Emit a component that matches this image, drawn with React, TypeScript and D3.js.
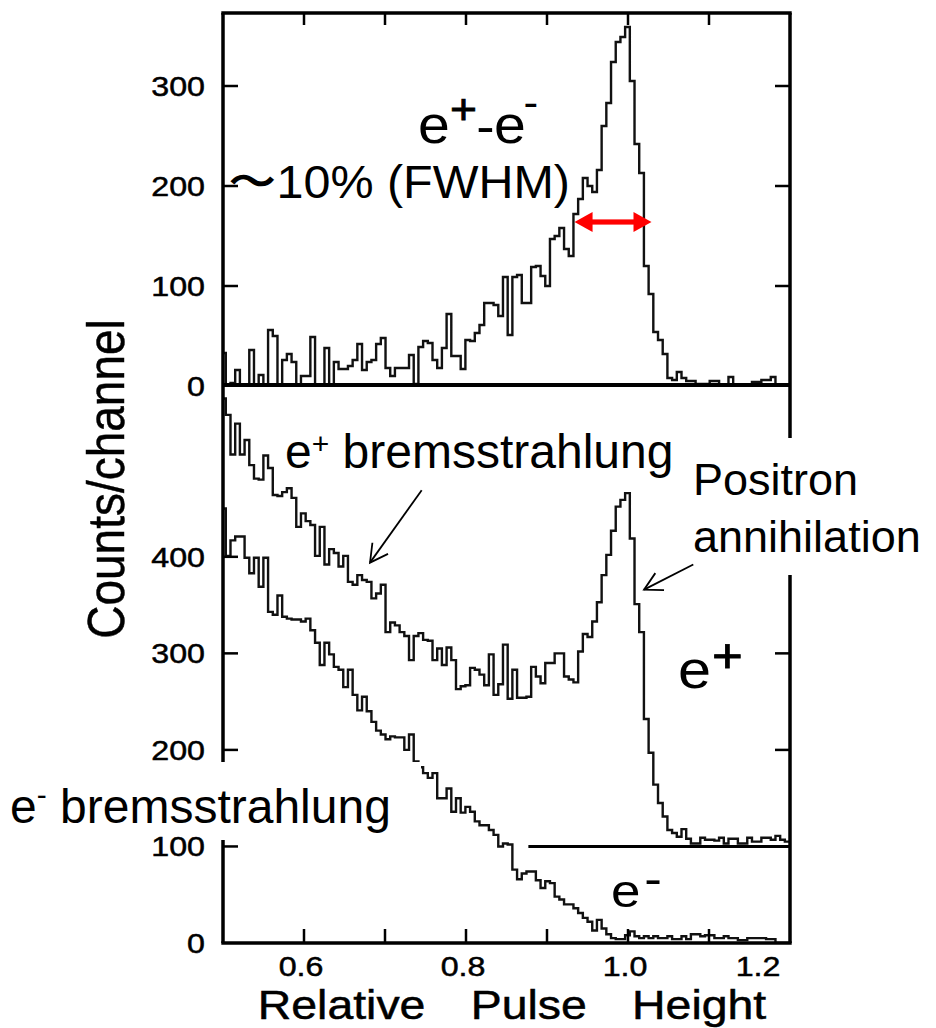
import React from 'react';
import * as d3 from 'd3';

// ---------- data ----------
const X_DOMAIN: [number, number] = [0.5, 1.2];
const X_TICKS = [0.6, 0.7, 0.8, 0.9, 1.0, 1.1];
const X_TICK_LABELS = [0.6, 0.8, 1.0, 1.2];
const TOP_Y_MAX = 373;
const BOTTOM_Y_MAX = 579;
const TOP_Y_TICKS = [100, 200, 300];
const TOP_Y_LABELS = [0, 100, 200, 300];
const BOTTOM_Y_TICKS = [100, 200, 300, 400];
const BOTTOM_Y_LABELS = [0, 100, 200, 300, 400];

const HIST_START = 0.49765;
const BIN_WIDTH = 0.0058;

// e+ - e- coincidence spectrum (top panel)
const EPEM = [
  33, 0, 3, 16, 0, 0, 36, 0, 11, 0, 56, 50, 0, 26, 32, 24, 0, 10, 10, 49,
  0, 0, 38, 0, 24, 17, 17, 20, 26, 42, 16, 24, 26, 42, 48, 18, 10, 18, 18, 18,
  31, 2, 39, 45, 43, 26, 18, 38, 72, 30, 30, 17, 46, 45, 53, 61, 83, 83, 81, 70,
  109, 51, 109, 111, 83, 83, 119, 120, 110, 100, 147, 150, 158, 137, 130, 172, 187, 208, 200, 194,
  216, 260, 283, 324, 344, 349, 359, 305, 242, 213, 120, 92, 54, 46, 32, 8, 6, 14, 8, 5,
  5, 2, 2, 2, 5, 5, 1, 1, 9, 1, 1, 1, 1, 4, 4, 6, 6, 9, 0, 0, 0,
];

// e+ spectrum (bottom panel, offset baseline 100)
const EPLUS = [
  564, 547, 506, 538, 506, 521, 495, 481, 480, 505, 492, 464, 463, 467, 471, 461, 431, 445, 437, 433,
  401, 431, 392, 408, 404, 390, 401, 374, 371, 381, 376, 374, 357, 362, 371, 322, 332, 329, 322, 318,
  293, 318, 321, 314, 313, 293, 305, 288, 306, 293, 263, 266, 267, 285, 283, 278, 267, 299, 257, 268,
  309, 253, 283, 254, 254, 255, 286, 276, 269, 290, 290, 300, 300, 276, 273, 270, 302, 320, 317, 333,
  353, 381, 402, 427, 452, 459, 466, 419, 351, 322, 232, 197, 164, 145, 131, 117, 114, 110, 118, 108,
  103, 103, 109, 107, 107, 106, 109, 103, 108, 108, 103, 103, 109, 105, 105, 109, 109, 107, 111, 107, 105,
];

// e- spectrum (bottom panel)
const EMINUS = [
  450, 401, 417, 421, 421, 399, 383, 399, 369, 399, 343, 340, 360, 338, 336, 335, 335, 333, 336, 324,
  311, 288, 311, 299, 286, 283, 265, 283, 257, 241, 255, 240, 229, 220, 216, 211, 214, 213, 213, 200,
  216, 188, 182, 176, 171, 176, 150, 150, 160, 136, 150, 135, 141, 136, 126, 122, 122, 117, 112, 100,
  103, 102, 76, 66, 72, 74, 74, 65, 57, 64, 62, 48, 45, 40, 40, 36, 31, 26, 22, 13,
  24, 15, 9, 5, 4, 4, 8, 12, 7, 5, 7, 5, 7, 5, 5, 7, 4, 4, 7, 4,
  9, 9, 7, 8, 8, 5, 5, 7, 5, 5, 3, 3, 5, 5, 5, 5, 4, 4, 0, 0, 0,
];

const EPLUS_BASELINE = 100;
const EPLUS_BASELINE_FROM = 0.877;
const FWHM_ARROW = { from: 0.934, to: 1.029, level: 164 };
const ARROW_EPLUS_BREMS = { x0: 0.7453, v0: 469, x1: 0.6815, v1: 394 };
const ARROW_ANNIHILATION = { x0: 1.0806, v0: 392, x1: 1.0198, v1: 366 };

// ---------- drawing ----------
const FONT = "'Liberation Sans', Arial, Helvetica, sans-serif";
const W = 936;
const H = 1028;

function SText(props: {
  x: number; y: number; sx?: number; anchor?: string; size: number; children: any;
  textLength?: number; wordSpacing?: number; bold?: boolean;
}) {
  const { x, y, sx = 1, anchor = 'start', size, children, textLength, wordSpacing, bold } = props;
  return (
    <g transform={`translate(${x},${y}) scale(${sx},1)`}>
      <text
        x={0}
        y={0}
        textAnchor={anchor as any}
        fontSize={size}
        fontFamily={FONT}
        fill="#000"
        stroke={bold ? '#000' : undefined}
        strokeWidth={bold ? 0.5 : undefined}
        wordSpacing={wordSpacing}
        textLength={textLength}
        lengthAdjust={textLength ? 'spacingAndGlyphs' : undefined}
      >
        {children}
      </text>
    </g>
  );
}

function arrowHead(tx: number, ty: number, fx: number, fy: number, len: number, ang: number) {
  const a = Math.atan2(fy - ty, fx - tx);
  const p1 = [tx + len * Math.cos(a + ang), ty + len * Math.sin(a + ang)];
  const p2 = [tx + len * Math.cos(a - ang), ty + len * Math.sin(a - ang)];
  return `M${p1[0]},${p1[1]}L${tx},${ty}L${p2[0]},${p2[1]}`;
}

export default function App() {
  const x = d3.scaleLinear().domain(X_DOMAIN).range([223, 790]);
  const yTop = d3.scaleLinear().domain([0, TOP_Y_MAX]).range([386, 13]);
  const yBot = d3.scaleLinear().domain([0, BOTTOM_Y_MAX]).range([943, 384]);
  const L = x(X_DOMAIN[0]);
  const R = x(X_DOMAIN[1]);
  const T = yTop(TOP_Y_MAX);
  const M = 385;
  const B = yBot(0);

  const hist = (vals: number[], y: d3.ScaleLinear<number, number>) => {
    const pts: [number, number][] = vals.map((v, i) => [x(HIST_START + i * BIN_WIDTH), y(v)]);
    pts.push([x(HIST_START + vals.length * BIN_WIDTH), y(vals[vals.length - 1])]);
    return d3.line().curve(d3.curveStepAfter)(pts) || '';
  };

  const axisW = 3.5;
  const tickW = 2.5;
  const histW = 2.4;
  const tickLen = 15;

  const ax1 = ARROW_EPLUS_BREMS;
  const ax2 = ARROW_ANNIHILATION;
  const a1 = { fx: x(ax1.x0), fy: yBot(ax1.v0), tx: x(ax1.x1), ty: yBot(ax1.v1) };
  const a2 = { fx: x(ax2.x0), fy: yBot(ax2.v0), tx: x(ax2.x1), ty: yBot(ax2.v1) };

  const fx0 = x(FWHM_ARROW.from);
  const fx1 = x(FWHM_ARROW.to);
  const fy = yTop(FWHM_ARROW.level);
  const headL = 18;
  const headH = 10;

  return (
    <svg
      width={W}
      height={H}
      viewBox={`0 0 ${W} ${H}`}
      style={{ position: 'absolute', left: 0, top: 0, background: '#fff' }}
    >
      <defs>
        <clipPath id="clipTop">
          <rect x={L} y={T} width={R - L} height={M - T + 2} />
        </clipPath>
        <clipPath id="clipBot">
          <rect x={L} y={M} width={R - L} height={B - M} />
        </clipPath>
      </defs>
      <rect x={0} y={0} width={W} height={H} fill="#fff" />

      {/* histograms */}
      <path d={hist(EPEM, yTop)} fill="none" stroke="#111" strokeWidth={histW} clipPath="url(#clipTop)" />
      <path d={hist(EPLUS, yBot)} fill="none" stroke="#111" strokeWidth={histW} clipPath="url(#clipBot)" />
      <path d={hist(EMINUS, yBot)} fill="none" stroke="#111" strokeWidth={histW} clipPath="url(#clipBot)" />

      {/* e+ baseline */}
      <line
        x1={x(EPLUS_BASELINE_FROM)}
        x2={R}
        y1={yBot(EPLUS_BASELINE)}
        y2={yBot(EPLUS_BASELINE)}
        stroke="#000"
        strokeWidth={3}
      />

      {/* frames */}
      <g stroke="#000" strokeWidth={axisW} fill="none">
        <line x1={L - 1.7} x2={R + 1.7} y1={T} y2={T} />
        <line x1={L} x2={R} y1={M} y2={M} strokeWidth={4} />
        <line x1={L - 1.7} x2={R + 1.7} y1={B} y2={B} />
        <line x1={L} x2={L} y1={T} y2={B} />
        <line x1={R} x2={R} y1={T} y2={B} />
      </g>

      {/* ticks */}
      <g stroke="#000" strokeWidth={tickW}>
        {X_TICKS.map((t) => (
          <line key={'tt' + t} x1={x(t)} x2={x(t)} y1={T} y2={T + 12} />
        ))}
        {X_TICKS.map((t) => (
          <line key={'bt' + t} x1={x(t)} x2={x(t)} y1={B} y2={B - 14} />
        ))}
        {TOP_Y_TICKS.map((t) => (
          <g key={'ty' + t}>
            <line x1={L} x2={L + tickLen} y1={yTop(t)} y2={yTop(t)} />
            <line x1={R - tickLen} x2={R} y1={yTop(t)} y2={yTop(t)} />
          </g>
        ))}
        {BOTTOM_Y_TICKS.map((t) => (
          <g key={'by' + t}>
            <line x1={L} x2={L + tickLen} y1={yBot(t)} y2={yBot(t)} />
            <line x1={R - tickLen} x2={R} y1={yBot(t)} y2={yBot(t)} />
          </g>
        ))}
      </g>

      {/* red FWHM arrow */}
      <g fill="#ff0000" stroke="none">
        <rect x={fx0 + headL - 1} y={fy - 2.6} width={fx1 - fx0 - 2 * headL + 2} height={5.2} />
        <polygon points={`${fx0},${fy} ${fx0 + headL},${fy - headH} ${fx0 + headL},${fy + headH}`} />
        <polygon points={`${fx1},${fy} ${fx1 - headL},${fy - headH} ${fx1 - headL},${fy + headH}`} />
      </g>

      {/* white label backgrounds */}
      <rect x={0} y={762} width={421} height={78} fill="#fff" />
      <rect x={688} y={438} width={W - 688} height={137} fill="#fff" />

      {/* annotation arrows */}
      <g stroke="#000" strokeWidth={1.8} fill="none">
        <line x1={a1.fx} y1={a1.fy} x2={a1.tx} y2={a1.ty} />
        <path d={arrowHead(a1.tx, a1.ty, a1.fx, a1.fy, 20, 0.5)} />
        <line x1={a2.fx} y1={a2.fy} x2={a2.tx} y2={a2.ty} />
        <path d={arrowHead(a2.tx, a2.ty, a2.fx, a2.fy, 20, 0.5)} />
      </g>

      {/* y tick labels */}
      {TOP_Y_LABELS.map((t) => (
        <SText key={'tl' + t} x={205} y={yTop(t) + 10} sx={1.15} anchor="end" size={28} bold>
          {String(t)}
        </SText>
      ))}
      {BOTTOM_Y_LABELS.map((t) => (
        <SText key={'bl' + t} x={205} y={yBot(t) + 10} sx={1.15} anchor="end" size={28} bold>
          {String(t)}
        </SText>
      ))}

      {/* x tick labels */}
      {X_TICK_LABELS.map((t) => (
        <SText key={'xl' + t} x={Math.min(x(t) - 3, R - 32)} y={976} sx={1.15} anchor="middle" size={28} bold>
          {t.toFixed(1)}
        </SText>
      ))}

      {/* axis titles */}
      <SText x={512} y={1019} sx={1.16} anchor="middle" size={40} wordSpacing={28} bold>
        Relative Pulse Height
      </SText>
      <g transform="translate(124,479) scale(1.12,1) rotate(-90)">
        <text x={0} y={0} textAnchor="middle" fontSize={46} fontFamily={FONT} fill="#000" stroke="#000" strokeWidth={0.4}>
          Counts/channel
        </text>
      </g>

      {/* panel labels */}
      <g transform="translate(418,143) scale(1.1,1)">
        <text x={0} y={0} fontSize={52} fontFamily={FONT} fill="#000">e</text>
        <text x={29} y={-19} fontSize={42} fontFamily={FONT} fill="#000" stroke="#000" strokeWidth={0.8}>+</text>
        <text x={53} y={0} fontSize={50} fontFamily={FONT} fill="#000">-</text>
        <text x={69} y={0} fontSize={52} fontFamily={FONT} fill="#000">e</text>
        <text x={96} y={-27} fontSize={40} fontFamily={FONT} fill="#000">-</text>
      </g>
      <g transform="translate(678,688) scale(1.1,1)">
        <text x={0} y={0} fontSize={54} fontFamily={FONT} fill="#000">e</text>
        <text x={31} y={-16} fontSize={48} fontFamily={FONT} fill="#000" stroke="#000" strokeWidth={0.8}>+</text>
      </g>
      <g transform="translate(611,907) scale(1.15,1)">
        <text x={0} y={0} fontSize={46} fontFamily={FONT} fill="#000">e</text>
        <text x={29} y={-12} fontSize={46} fontFamily={FONT} fill="#000">-</text>
      </g>

      {/* annotations */}
      <SText x={228} y={198} size={46} textLength={342}>
        〜10% (FWHM)
      </SText>
      <text x={285} y={468} fontSize={48} fontFamily={FONT} fill="#000">
        e<tspan fontSize={30} dy={-14}>+</tspan>
        <tspan dy={14}> bremsstrahlung</tspan>
      </text>
      <text x={10} y={823} fontSize={48} fontFamily={FONT} fill="#000">
        e<tspan fontSize={30} dy={-18}>-</tspan>
        <tspan dy={18}> bremsstrahlung</tspan>
      </text>
      <text x={693} y={495} fontSize={45} fontFamily={FONT} fill="#000">
        Positron
      </text>
      <text x={693} y={552} fontSize={45} fontFamily={FONT} fill="#000">
        annihilation
      </text>
    </svg>
  );
}
